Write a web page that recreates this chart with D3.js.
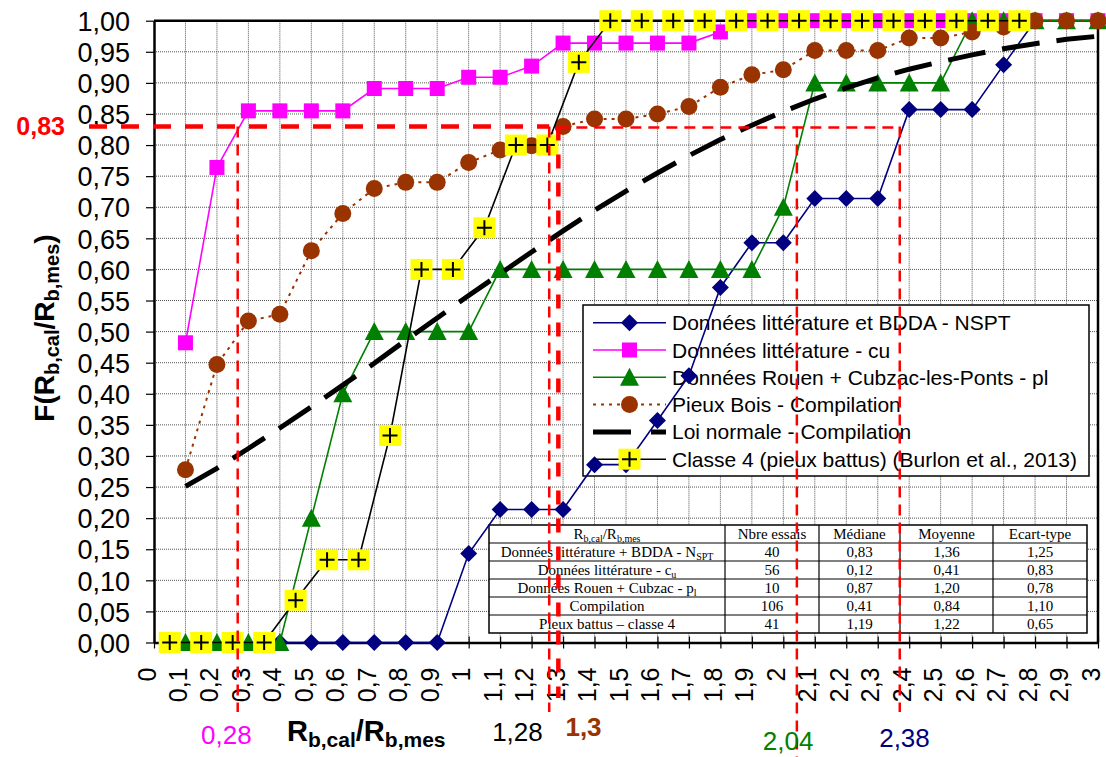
<!DOCTYPE html>
<html><head><meta charset="utf-8">
<script src="https://cdn.jsdelivr.net/npm/d3@7"></script>
<style>
body{margin:0;background:#fff}
svg{display:block}
text{font-family:Arial,"Liberation Sans",sans-serif}
text.serif{font-family:"Times New Roman","Liberation Serif",serif}
</style>
</head><body>
<svg id="c" width="1106" height="757"></svg>
<script>
// ---------------- DATA ----------------
const xCats = [0.1,0.2,0.3,0.4,0.5,0.6,0.7,0.8,0.9,1.0,1.1,1.2,1.3,1.4,1.5,1.6,1.7,1.8,1.9,2.0,2.1,2.2,2.3,2.4,2.5,2.6,2.7,2.8,2.9,3.0];

const xNSPT = [0.4,0.5,0.6,0.7,0.8,0.9,1.0,1.1,1.2,1.3,1.4,1.5,1.6,1.7,1.8,1.9,2.0,2.1,2.2,2.3,2.4,2.5,2.6,2.7,2.8,2.9,3.0];
const yNSPT = [0,0,0,0,0,0,0.143,0.214,0.214,0.214,0.286,0.286,0.357,0.429,0.571,0.643,0.643,0.714,0.714,0.714,0.857,0.857,0.857,0.929,1,1,1];

const yCu = [0.482,0.764,0.855,0.855,0.855,0.855,0.891,0.891,0.891,0.909,
             0.909,0.927,0.964,0.964,0.964,0.964,0.964,0.982,1,1,
             1,1,1,1,1,1,1,1,1,1];

const yPl = [0,0,0,0,0.2,0.4,0.5,0.5,0.5,0.5,
             0.6,0.6,0.6,0.6,0.6,0.6,0.6,0.6,0.6,0.7,
             0.9,0.9,0.9,0.9,0.9,1,1,1,1,1];

const yBois = [0.278,0.447,0.517,0.528,0.63,0.69,0.73,0.74,0.74,0.772,
               0.792,0.799,0.83,0.842,0.842,0.85,0.862,0.893,0.913,0.921,
               0.952,0.952,0.952,0.972,0.972,0.982,0.99,1,1,1];

const yNormal = [0.251,0.280,0.312,0.345,0.379,0.414,0.449,0.486,0.522,0.558,
                 0.593,0.628,0.662,0.695,0.726,0.755,0.783,0.809,0.832,0.854,
                 0.874,0.892,0.908,0.922,0.934,0.945,0.955,0.963,0.970,0.975];

const xClasse4 = [0.05,0.15,0.25,0.35,0.45,0.55,0.65,0.75,0.85,0.95,1.05,1.15,1.25,1.35,1.45,1.55,1.65,1.75,1.85,1.95,2.05,2.15,2.25,2.35,2.45,2.55,2.65,2.75];
const yClasse4 = [0,0,0,0,0.068,0.133,0.133,0.333,0.6,0.6,0.667,0.8,0.8,0.933,1,1,1,1,1,1,1,1,1,1,1,1,1,1];

const legendLabels = ["Données littérature et BDDA - NSPT","Données littérature - cu","Données Rouen + Cubzac-les-Ponts - pl","Pieux Bois - Compilation","Loi normale - Compilation","Classe 4 (pieux battus) (Burlon et al., 2013)"];

const xTicks = d3.range(0,31).map(i=>i/10);
const yTicks = d3.range(0,21).map(i=>i/20);

const guideLevel = 0.83;
const guidePink = 0.266, guideBlack = 1.256, guideBrown = 1.285, guideGreen = 2.043, guideNavy = 2.37;

const tableHead = ["Nbre essais","Médiane","Moyenne","Ecart-type"];
const tableNames = [["Données littérature + BDDA - N","SPT"],["Données littérature - c","u"],["Données Rouen + Cubzac - p","l"],["Compilation",""],["Pieux battus – classe 4",""]];
const tableN = ["40","56","10","106","41"];
const tableMed = ["0,83","0,12","0,87","0,41","1,19"];
const tableMean = ["1,36","0,41","1,20","0,84","1,22"];
const tableSD = ["1,25","0,83","0,78","1,10","0,65"];

// ---------------- CHART ----------------
const svg = d3.select('#c');
const x = d3.scaleLinear().domain([0,3]).range([154,1098]);
const y = d3.scaleLinear().domain([0,1]).range([642.5,20.7]);
const NAVY="#000080", MAG="#FF00FF", GRN="#008000", BRN="#993300", RED="#FF0000";
const fmt = d => d.toFixed(2).replace('.',',');
const fmtX = d => (Math.abs(d*10 - Math.round(d)*10) < 1e-6) ? String(Math.round(d)) : d.toFixed(1).replace('.',',');

// grid
const grid = svg.append('g');
grid.selectAll('line.v').data(xTicks.filter(d=>d>0 && d<3)).join('line')
  .attr('x1',d=>x(d)).attr('x2',d=>x(d)).attr('y1',y(1)).attr('y2',y(0))
  .attr('stroke','#555').attr('stroke-width',1).attr('stroke-dasharray','1,1');
grid.selectAll('line.h').data(yTicks.filter(d=>d>0 && d<1)).join('line')
  .attr('x1',x(0)).attr('x2',x(3)).attr('y1',d=>y(d)).attr('y2',d=>y(d))
  .attr('stroke','#555').attr('stroke-width',1).attr('stroke-dasharray','1,1');

// table
const tCols = [489,725,819,900,993,1087];
const tTop = 525, rowH = 18.0;
const tbl = svg.append('g');
tbl.append('rect').attr('x',tCols[0]).attr('y',tTop).attr('width',tCols[5]-tCols[0]).attr('height',rowH*6).attr('fill','#fff');
for(let i=1;i<6;i++) tbl.append('line').attr('x1',tCols[0]).attr('x2',tCols[5]).attr('y1',tTop+i*rowH).attr('y2',tTop+i*rowH).attr('stroke','#000').attr('stroke-width',1);
for(let j=1;j<5;j++) tbl.append('line').attr('x1',tCols[j]).attr('x2',tCols[j]).attr('y1',tTop).attr('y2',tTop+6*rowH).attr('stroke','#000').attr('stroke-width',1.2);
tbl.append('rect').attr('x',tCols[0]).attr('y',tTop).attr('width',tCols[5]-tCols[0]).attr('height',rowH*6).attr('fill','none').attr('stroke','#000').attr('stroke-width',1.5);
const cx = j => (tCols[j]+tCols[j+1])/2;
const cellText = (j,i) => tbl.append('text').attr('class','serif').attr('x',cx(j)).attr('y',tTop+i*rowH+13.5).attr('text-anchor','middle').attr('font-size',15).attr('fill','#000');
{
  const t = cellText(0,0);
  t.append('tspan').text('R');
  t.append('tspan').attr('font-size',10).attr('dy',3).text('b,cal');
  t.append('tspan').attr('dy',-3).text('/R');
  t.append('tspan').attr('font-size',10).attr('dy',3).text('b,mes');
}
tableHead.forEach((h,j)=>cellText(j+1,0).text(h));
tableNames.forEach((nm,i)=>{
  const t = cellText(0,i+1);
  t.append('tspan').text(nm[0]);
  if(nm[1]) t.append('tspan').attr('font-size',10).attr('dy',3).text(nm[1]);
  cellText(1,i+1).text(tableN[i]);
  cellText(2,i+1).text(tableMed[i]);
  cellText(3,i+1).text(tableMean[i]);
  cellText(4,i+1).text(tableSD[i]);
});

// legend box + text
const lg = {x0:583,y0:305,x1:1089,y1:476,row0:322.7,dy:27.3};
svg.append('rect').attr('x',lg.x0).attr('y',lg.y0).attr('width',lg.x1-lg.x0).attr('height',lg.y1-lg.y0)
  .attr('fill','#fff').attr('stroke','#000').attr('stroke-width',1.5);
svg.append('g').selectAll('text').data(legendLabels).join('text')
  .attr('x',672).attr('y',(d,i)=>lg.row0+i*lg.dy).attr('dy','0.36em')
  .attr('font-size',21).attr('fill','#000').text(d=>d);

// axes
const yAxis = svg.append('g').attr('transform',`translate(${x(0)},0)`)
  .call(d3.axisLeft(y).tickValues(yTicks).tickFormat(fmt).tickSize(8).tickSizeOuter(0));
yAxis.select('.domain').attr('stroke','#000').attr('stroke-width',2.5);
yAxis.selectAll('.tick line').attr('stroke','#000').attr('stroke-width',1.2);
yAxis.selectAll('.tick text').attr('x',-24).attr('dy','0.36em').attr('font-size',27).attr('fill','#000')
  .attr('font-family',null);

const xAxis = svg.append('g').attr('transform',`translate(0,${y(0)})`)
  .call(d3.axisBottom(x).tickValues(xTicks).tickFormat(fmtX).tickSize(6).tickSizeOuter(0));
xAxis.select('.domain').attr('stroke','#000').attr('stroke-width',2.5);
xAxis.selectAll('.tick line').attr('y1',-6).attr('stroke','#000').attr('stroke-width',1.2);
xAxis.selectAll('.tick text').attr('transform','rotate(-90)').attr('text-anchor','end')
  .attr('x',-25).attr('y',1).attr('dy','0').attr('font-size',25).attr('fill','#000');

// top & right frame
svg.append('line').attr('x1',x(0)).attr('x2',x(3)).attr('y1',y(1)).attr('y2',y(1)).attr('stroke','#000').attr('stroke-width',2.5);
svg.append('line').attr('x1',x(3)).attr('x2',x(3)).attr('y1',y(1)).attr('y2',y(0)).attr('stroke','#000').attr('stroke-width',2.5);

// marker shapes
const diamond = 'M0,-8.5L8.5,0L0,8.5L-8.5,0Z';
const square = 'M-7.5,-7.5H7.5V7.5H-7.5Z';
const tri = 'M0,-9.5L9.5,8.5L-9.5,8.5Z';
const line = d3.line().x(d=>x(d[0])).y(d=>y(d[1]));

function drawMarkers(g, pts, kind){
  pts.forEach(p=>addMarker(g,x(p[0]),y(p[1]),kind));
}
function addMarker(g,px,py,kind){
  if(kind==='diamond') g.append('path').attr('d',diamond).attr('transform',`translate(${px},${py})`).attr('fill',NAVY);
  else if(kind==='square') g.append('path').attr('d',square).attr('transform',`translate(${px},${py})`).attr('fill',MAG);
  else if(kind==='tri') g.append('path').attr('d',tri).attr('transform',`translate(${px},${py})`).attr('fill',GRN);
  else if(kind==='circle') g.append('circle').attr('cx',px).attr('cy',py).attr('r',8.5).attr('fill',BRN);
  else if(kind==='plus'){
    g.append('rect').attr('x',px-11).attr('y',py-10.5).attr('width',22).attr('height',21).attr('fill','#FFFF00');
    g.append('path').attr('d',`M${px-7.5},${py}H${px+7.5}M${px},${py-7.5}V${py+7.5}`).attr('stroke','#000').attr('stroke-width',2);
  }
}

const series = svg.append('g');
const pN = xNSPT.map((v,i)=>[v,yNSPT[i]]);
series.append('path').datum(pN).attr('d',line).attr('fill','none').attr('stroke',NAVY).attr('stroke-width',1.6);
drawMarkers(series,pN,'diamond');
const pC = xCats.map((v,i)=>[v,yCu[i]]);
series.append('path').datum(pC).attr('d',line).attr('fill','none').attr('stroke',MAG).attr('stroke-width',1.6);
drawMarkers(series,pC,'square');
const pP = xCats.map((v,i)=>[v,yPl[i]]);
series.append('path').datum(pP).attr('d',line).attr('fill','none').attr('stroke',GRN).attr('stroke-width',1.6);
drawMarkers(series,pP,'tri');
const pB = xCats.map((v,i)=>[v,yBois[i]]);
series.append('path').datum(pB).attr('d',line).attr('fill','none').attr('stroke',BRN).attr('stroke-width',2).attr('stroke-dasharray','3,5');
drawMarkers(series,pB,'circle');
const pNo = xCats.map((v,i)=>[v,yNormal[i]]);
series.append('path').datum(pNo).attr('d',line).attr('fill','none').attr('stroke','#000').attr('stroke-width',5).attr('stroke-dasharray','38,17');
const p4 = xClasse4.map((v,i)=>[v,yClasse4[i]]);
series.append('path').datum(p4).attr('d',line).attr('fill','none').attr('stroke','#000').attr('stroke-width',1.6);
drawMarkers(series,p4,'plus');

// legend samples
const ls = svg.append('g');
const lsx0=593, lsx1=666, lsm=629.5;
const kinds = ['diamond','square','tri','circle','normal','plus'];
const cols = [NAVY,MAG,GRN,BRN,'#000','#000'];
kinds.forEach((k,i)=>{
  const yy = lg.row0+i*lg.dy;
  if(k==='normal'){
    ls.append('line').attr('x1',lsx0).attr('x2',lsx1).attr('y1',yy).attr('y2',yy).attr('stroke','#000').attr('stroke-width',5).attr('stroke-dasharray','38,20');
  } else {
    ls.append('line').attr('x1',lsx0).attr('x2',lsx1).attr('y1',yy).attr('y2',yy).attr('stroke',cols[i]).attr('stroke-width',k==='circle'?2:1.6).attr('stroke-dasharray',k==='circle'?'3,5':null);
    addMarker(ls,lsm,yy,k);
  }
});

// red guides
const gd = svg.append('g').attr('stroke',RED).attr('fill','none');
const yG = y(guideLevel);
gd.append('line').attr('x1',89).attr('x2',x(guideBlack)).attr('y1',yG).attr('y2',yG).attr('stroke-width',4.5).attr('stroke-dasharray','18,14');
gd.append('line').attr('x1',x(guideBrown)).attr('x2',x(guideNavy)).attr('y1',yG+1).attr('y2',yG+1).attr('stroke-width',2.5).attr('stroke-dasharray','11,7');
[[guidePink,712],[guideBlack,712],[guideGreen,757],[guideNavy,712]].forEach(([g,yb])=>{
  gd.append('line').attr('x1',x(g)).attr('x2',x(g)).attr('y1',yG).attr('y2',yb).attr('stroke-width',2.5).attr('stroke-dasharray','11,7');
});
gd.append('line').attr('x1',x(guideBrown)).attr('x2',x(guideBrown)).attr('y1',yG).attr('y2',698).attr('stroke-width',4.5).attr('stroke-dasharray','14,14');

// annotations
svg.append('text').attr('x',65).attr('y',yG).attr('dy','0.36em').attr('text-anchor','end')
  .attr('font-size',25).attr('font-weight','bold').attr('fill',RED).text(fmt(guideLevel));
const ann = (xv,yb,txt,col,bold)=>svg.append('text').attr('x',x(xv)).attr('y',yb).attr('text-anchor','middle')
  .attr('font-size',26).attr('font-weight',bold?'bold':'normal').attr('fill',col).text(txt);
ann(0.23,744,'0,28',MAG,false);
ann(1.155,741,'1,28','#000',false);
ann(1.365,736,'1,3',BRN,true);
ann(2.015,750,'2,04',GRN,false);
ann(2.385,747,'2,38',NAVY,false);

// axis titles
const xt = svg.append('text').attr('x',287).attr('y',741).attr('font-size',29).attr('font-weight','bold').attr('fill','#000');
xt.append('tspan').text('R');
xt.append('tspan').attr('font-size',21).attr('dy',6).text('b,cal');
xt.append('tspan').attr('dy',-6).text('/R');
xt.append('tspan').attr('font-size',21).attr('dy',6).text('b,mes');

const yt = svg.append('text').attr('transform','translate(54,328) rotate(-90)').attr('text-anchor','middle')
  .attr('font-size',28).attr('font-weight','bold').attr('fill','#000');
yt.append('tspan').text('F(R');
yt.append('tspan').attr('font-size',20).attr('dy',5).text('b,cal');
yt.append('tspan').attr('dy',-5).text('/R');
yt.append('tspan').attr('font-size',20).attr('dy',5).text('b,mes');
yt.append('tspan').attr('dy',-5).text(')');
</script>
</body></html>
